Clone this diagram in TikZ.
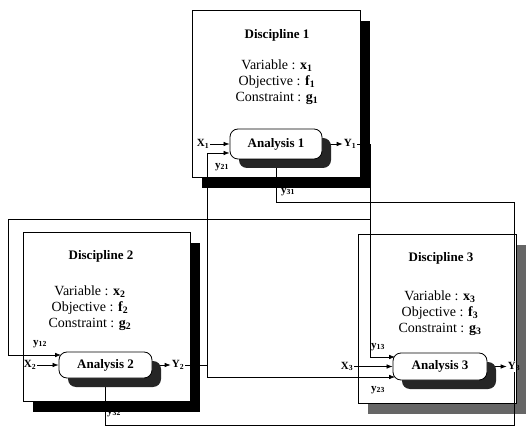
\documentclass[tikz,border=0pt]{standalone}
\usepackage{fontspec}
\setmainfont{Liberation Serif}
\usetikzlibrary{arrows.meta,shadows}
\pgfdeclarelayer{bg}
\pgfdeclarelayer{wires}
\pgfsetlayers{bg,wires,main}
\newcommand\subv[2]{\textbf{#1}\textsubscript{\textbf{#2}}}
\begin{document}
\begin{tikzpicture}[x=1pt,y=-1pt,
  disc/.style={draw=black,line width=0.7pt,fill=white,inner sep=0pt,
    drop shadow={shadow xshift=10pt,shadow yshift=-11pt,fill=black,opacity=1}},
  disc3/.style={draw=black,line width=0.7pt,fill=white,inner sep=0pt,
    drop shadow={shadow xshift=10pt,shadow yshift=-11pt,fill=black!60,opacity=1}},
  ana/.style={draw=black,line width=0.8pt,fill=white,rounded corners=8pt,inner sep=0pt,
    font=\bfseries\fontsize{13}{15}\selectfont,
    drop shadow={shadow xshift=9pt,shadow yshift=-9pt,fill=black!85,opacity=1}},
  ttl/.style={font=\bfseries\fontsize{13}{15}\selectfont,inner sep=0pt},
  info/.style={align=center,font=\fontsize{14}{16}\selectfont,inner sep=0pt},
  lbl/.style={font=\bfseries\fontsize{11}{12}\selectfont,inner sep=1pt},
  wire/.style={line width=0.7pt},
  arr/.style={wire,-{Latex[length=6pt,width=4.5pt]}},
  corner/.style={shorten >=-2.5pt}]
\useasboundingbox (0,0) rectangle (532,427);

% discipline boxes
\begin{pgfonlayer}{bg}
\node[disc,minimum width=168pt,minimum height=167pt] (D1) at (276,93.5) {};
\node[disc,minimum width=167pt,minimum height=169pt] (D2) at (106.5,316.5) {};
\node[disc3,minimum width=158pt,minimum height=169pt] (D3) at (437,318.5) {};
\end{pgfonlayer}

% titles and info
\node[ttl] (T1) at (277,35) {Discipline 1};
\node[info] (I1) at (277,82) {Variable : \subv{x}{1}\\Objective : \subv{f}{1}\\Constraint : \subv{g}{1}};
\node[ttl] (T2) at (101,256) {Discipline 2};
\node[info] (I2) at (90,308) {Variable : \subv{x}{2}\\Objective : \subv{f}{2}\\Constraint : \subv{g}{2}};
\node[ttl] (T3) at (441,258) {Discipline 3};
\node[info] (I3) at (440,313) {Variable : \subv{x}{3}\\Objective : \subv{f}{3}\\Constraint : \subv{g}{3}};

% analysis nodes
\node[ana,minimum width=92pt,minimum height=30pt] (A1) at (276,144) {Analysis 1};
\node[ana,minimum width=93pt,minimum height=26pt] (A2) at (105.5,365) {Analysis 2};
\node[ana,minimum width=94pt,minimum height=27pt] (A3) at (440,366.5) {Analysis 3};

% labels
\node[lbl] (X1) at (203,144) {X\textsubscript{1}};
\node[lbl] (Y1) at (350,144) {Y\textsubscript{1}};
\node[lbl] (y21) at (222,167) {y\textsubscript{21}};
\node[lbl] (y31) at (288,192) {y\textsubscript{31}};
\node[lbl] (X2) at (30,365) {X\textsubscript{2}};
\node[lbl] (y12) at (40,344) {y\textsubscript{12}};
\node[lbl] (Y2) at (178,365) {Y\textsubscript{2}};
\node[lbl] (y32) at (114,413) {y\textsubscript{32}};
\node[lbl] (X3) at (347,366.5) {X\textsubscript{3}};
\node[lbl] (y13) at (378,347) {y\textsubscript{13}};
\node[lbl] (y23) at (378,390) {y\textsubscript{23}};
\node[lbl] (Y3) at (514,366.5) {Y\textsubscript{3}};

% bend coordinates
\coordinate (p1) at (370,144);
\coordinate (p2) at (370,357);
\coordinate (p3) at (370,219);
\coordinate (p4) at (8,219);
\coordinate (p5) at (8,355);
\coordinate (q1) at (207,153);
\coordinate (q2) at (207,377);
\coordinate (r1) at (514,202);
\coordinate (r2) at (514,425);
\coordinate (h1) at (0,202);
\coordinate (h2) at (0,425);

\begin{pgfonlayer}{wires}
\draw[arr] (X1) -- (A1);
\draw[arr] (A1) -- (Y1);
\draw[arr] (X2) -- (A2);
\draw[arr] (A2) -- (Y2);
\draw[arr] (X3) -- (A3);
\draw[arr] (A3) -- (Y3);
% Y1 -> y13, y12
\draw[wire] (Y1.east) -- (p1) -- (p2);
\draw[arr,corner] (p2) -- (A3.west |- p2);
\draw[arr,corner] (p3) -- (p4) -- (p5) -- (A2.west |- p5);
% Y2 -> y21, y23
\draw[wire] (Y2.east) -- (Y2.east -| q2);
\draw[wire] (q2) -- (q1);
\draw[arr] (q1) -- (A1.west |- q1);
\draw[arr,corner] (q2) -- (A3.west |- q2);
% Y3 -> y31, y32
\draw[wire] (Y3.north) -- (r1) -- (A1.south |- h1) -- (A1.south);
\draw[wire] (Y3.south) -- (r2) -- (A2.south |- h2) -- (A2.south);
\end{pgfonlayer}
\end{tikzpicture}
\end{document}
